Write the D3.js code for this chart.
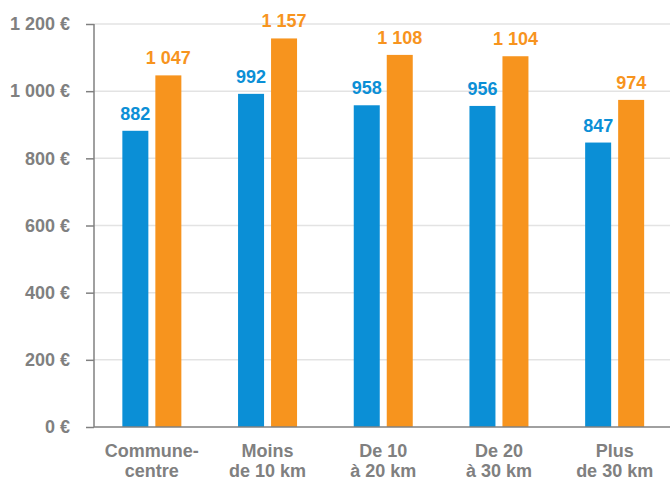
<!DOCTYPE html>
<html>
<head>
<meta charset="utf-8">
<script src="https://cdn.jsdelivr.net/npm/d3@7"></script>
<style>
  body { margin: 0; background: #fff; }
  text { font-family: "Liberation Sans", Arial, sans-serif; font-weight: bold; }
</style>
</head>
<body>
<div id="chart"></div>
<script>
var categories = [["Commune-", "centre"], ["Moins", "de 10 km"], ["De 10", "à 20 km"], ["De 20", "à 30 km"], ["Plus", "de 30 km"]];
var seriesBlue = [882, 992, 958, 956, 847];
var seriesOrange = [1047, 1157, 1108, 1104, 974];
var yTicks = [0, 200, 400, 600, 800, 1000, 1200];

var margin = { top: 24, right: 0, bottom: 52, left: 94 },
  width = 670 - margin.left - margin.right,
  height = 479 - margin.top - margin.bottom;

var blue = "#0b8fd6", orange = "#f7941e", grey = "#808080";

var fmt = function (v) { return d3.format(",")(v).replace(",", " "); };

var svg = d3.select("#chart").append("svg")
  .attr("width", 670)
  .attr("height", 479)
  .append("g")
  .attr("transform", "translate(" + margin.left + "," + margin.top + ")");

var x = d3.scaleBand()
  .domain(d3.range(categories.length))
  .range([0, 578.5]);

var y = d3.scaleLinear()
  .domain([0, 1200])
  .range([height, 0]);

// grid
svg.selectAll(".grid").data(yTicks.slice(1)).enter().append("line")
  .attr("x1", 0).attr("x2", width)
  .attr("y1", function (d) { return y(d); })
  .attr("y2", function (d) { return y(d); })
  .attr("stroke", "#e3e3e3").attr("stroke-width", 1.5);

var barW = 26, gap = 7;

svg.selectAll(".b").data(seriesBlue).enter().append("rect")
  .attr("x", function (d, i) { return x(i) + x.bandwidth() / 2 - gap / 2 - barW; })
  .attr("y", function (d) { return y(d); })
  .attr("width", barW)
  .attr("height", function (d) { return height - y(d); })
  .attr("fill", blue);

svg.selectAll(".o").data(seriesOrange).enter().append("rect")
  .attr("x", function (d, i) { return x(i) + x.bandwidth() / 2 + gap / 2; })
  .attr("y", function (d) { return y(d); })
  .attr("width", barW)
  .attr("height", function (d) { return height - y(d); })
  .attr("fill", orange);

svg.selectAll(".bl").data(seriesBlue).enter().append("text")
  .attr("x", function (d, i) { return x(i) + x.bandwidth() / 2 - gap / 2 - barW / 2; })
  .attr("y", function (d) { return y(d) - 11; })
  .attr("text-anchor", "middle")
  .style("font-size", "18px")
  .attr("fill", blue)
  .text(fmt);

svg.selectAll(".ol").data(seriesOrange).enter().append("text")
  .attr("x", function (d, i) { return x(i) + x.bandwidth() / 2 + gap / 2 + barW / 2; })
  .attr("y", function (d) { return y(d) - 11; })
  .attr("text-anchor", "middle")
  .style("font-size", "18px")
  .attr("fill", orange)
  .text(fmt);

// y axis
var yAxis = d3.axisLeft(y)
  .tickValues(yTicks)
  .tickSize(8)
  .tickPadding(16)
  .tickFormat(function (d) { return fmt(d) + " €"; });

var ya = svg.append("g").call(yAxis);
ya.select(".domain").attr("stroke", grey).attr("stroke-width", 1.5).attr("d", "M0," + y(1200) + "V" + height);
ya.selectAll(".tick line").attr("stroke", grey).attr("stroke-width", 1.5);
ya.selectAll(".tick text").attr("fill", grey).style("font-size", "18px");

// x axis line
svg.append("line")
  .attr("x1", 0).attr("x2", width)
  .attr("y1", height).attr("y2", height)
  .attr("stroke", grey).attr("stroke-width", 1.5);

var xl = svg.selectAll(".xl").data(categories).enter().append("text")
  .attr("x", function (d, i) { return x(i) + x.bandwidth() / 2; })
  .attr("y", height + 30)
  .attr("text-anchor", "middle")
  .style("font-size", "18px")
  .attr("fill", grey);
xl.append("tspan").text(function (d) { return d[0]; });
xl.append("tspan")
  .attr("x", function (d, i) { return x(i) + x.bandwidth() / 2; })
  .attr("dy", 20)
  .text(function (d) { return d[1]; });
</script>
</body>
</html>
